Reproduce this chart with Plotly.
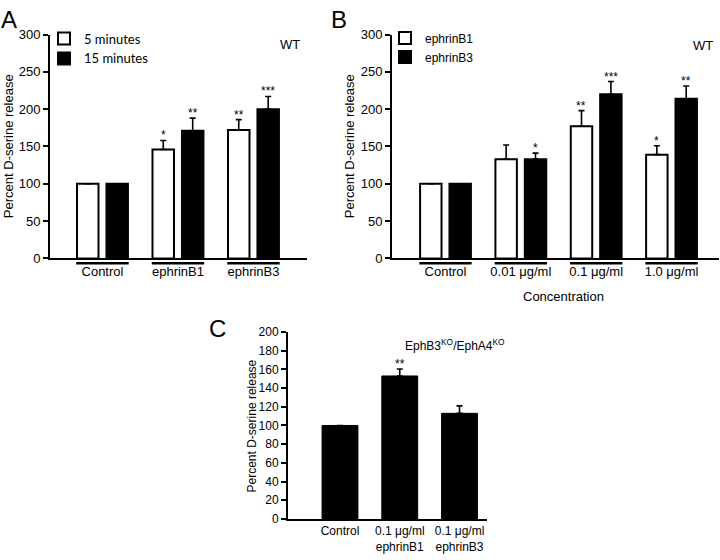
import plotly.graph_objects as go

# ---------------- data ----------------
# Panel A (WT, time course)
cats_a = ["Control", "ephrinB1", "ephrinB3"]
a_5min = [100, 146, 172]
a_5min_err = [0, 12, 14]
a_15min = [100, 171, 200]
a_15min_err = [0, 17, 17]
a_5min_sig = ["", "*", "**"]
a_15min_sig = ["", "**", "***"]

# Panel B (WT, concentration)
cats_b = ["Control", "0.01 μg/ml", "0.1 μg/ml", "1.0 μg/ml"]
b_ephrinb1 = [100, 133, 177, 139]
b_ephrinb1_err = [0, 19, 21, 12]
b_ephrinb3 = [100, 133, 220, 214]
b_ephrinb3_err = [0, 8, 17, 17]
b_b1_sig = ["", "", "**", "*"]
b_b3_sig = ["", "*", "***", "**"]

# Panel C (EphB3KO/EphA4KO)
cats_c = ["Control", "0.1 μg/ml<br>ephrinB1", "0.1 μg/ml<br>ephrinB3"]
c_vals = [100, 153, 113]
c_err = [0, 7.5, 8]
c_sig = ["", "**", ""]

ticks_ab = [0, 50, 100, 150, 200, 250, 300]
ticks_c = [0, 20, 40, 60, 80, 100, 120, 140, 160, 180, 200]

# ---------------- style ----------------
FONT = "Liberation Sans, Arial, Helvetica, sans-serif"
W, H = 720, 560
BARGAP = 0.22
BARGROUPGAP = 0.27
HALF = (1 - BARGAP) / 4          # centre offset of each bar in a pair
BARHALF = (1 - BARGAP) / 2 * (1 - BARGROUPGAP) / 2


def px(x):
    return x / W


def py(y):
    return 1 - y / H


def errs(e):
    return [v if v else None for v in e]


fig = go.Figure()

def pair(x, vals, err, name, color, xa, ya, legend):
    fig.add_trace(go.Bar(
        x=x, y=vals, name=name, xaxis=xa, yaxis=ya, legend=legend,
        marker=dict(color=color, line=dict(color="black", width=2)),
        error_y=dict(type="data", symmetric=False, array=errs(err),
                     arrayminus=[0] * len(err), color="black",
                     thickness=1.6, width=3),
    ))

pair(cats_a, a_5min, a_5min_err, "5 minutes", "white", "x", "y", "legend")
pair(cats_a, a_15min, a_15min_err, "15 minutes", "black", "x", "y", "legend")
pair(cats_b, b_ephrinb1, b_ephrinb1_err, "ephrinB1", "white", "x2", "y2", "legend2")
pair(cats_b, b_ephrinb3, b_ephrinb3_err, "ephrinB3", "black", "x2", "y2", "legend2")

fig.add_trace(go.Bar(
    x=cats_c, y=c_vals, xaxis="x3", yaxis="y3", showlegend=False, width=0.6,
    marker=dict(color="black", line=dict(color="black", width=1)),
    error_y=dict(type="data", symmetric=False, array=errs(c_err),
                 arrayminus=[0] * len(c_err), color="black",
                 thickness=1.6, width=3),
))

annotations = []
shapes = []

# significance stars
def stars(sig, vals, err, offset, xref, yref):
    for i, s in enumerate(sig):
        if s:
            annotations.append(dict(
                x=i + offset, y=vals[i] + err[i], xref=xref, yref=yref,
                text=s, showarrow=False, yanchor="bottom", yshift=-4,
                font=dict(family=FONT, size=12, color="black")))

stars(a_5min_sig, a_5min, a_5min_err, -HALF, "x", "y")
stars(a_15min_sig, a_15min, a_15min_err, HALF, "x", "y")
stars(b_b1_sig, b_ephrinb1, b_ephrinb1_err, -HALF, "x2", "y2")
stars(b_b3_sig, b_ephrinb3, b_ephrinb3_err, HALF, "x2", "y2")
stars(c_sig, c_vals, c_err, 0, "x3", "y3")

# group underlines
for cats, xref, yref in [(cats_a, "x", "y domain"), (cats_b, "x2", "y2 domain")]:
    for i, _ in enumerate(cats):
        shapes.append(dict(type="line", xref=xref, yref=yref,
                           x0=i - HALF - BARHALF - 0.01, x1=i + HALF + BARHALF + 0.01,
                           y0=-0.022, y1=-0.022,
                           line=dict(color="black", width=2.5)))

def text(x, y, t, size=13, angle=0, family=FONT):
    annotations.append(dict(x=px(x), y=py(y), xref="paper", yref="paper",
                            text=t, showarrow=False, textangle=angle,
                            xanchor="center", yanchor="middle",
                            font=dict(family=family, size=size, color="black")))

# panel letters
text(9, 13, "A", 24)
text(339, 13, "B", 24)
text(217, 330, "C", 24)
# y titles
text(8, 143, "Percent D-serine release", 13, -90)
text(349, 143, "Percent D-serine release", 13, -90)
text(252, 430, "Percent D-serine release", 12, -90)
# other labels
text(290, 39, "WT", 13)
text(703, 40, "WT", 13)
text(455, 347, "EphB3<sup>KO</sup>/EphA4<sup>KO</sup>", 12)
text(563, 297, "Concentration", 13)

axis_common = dict(showline=True, linecolor="black", linewidth=2,
                   showgrid=False, zeroline=False, color="black",
                   tickfont=dict(family=FONT, size=13, color="black"))

def xax(domain, rng, anchor, size=13):
    d = dict(axis_common)
    d.update(domain=domain, range=rng, anchor=anchor, type="category",
             ticks="", tickfont=dict(family=FONT, size=size, color="black"))
    return d

def yax(domain, rng, anchor, vals, size=13):
    d = dict(axis_common)
    d.update(domain=domain, range=rng, anchor=anchor, tickmode="array",
             tickvals=vals, ticktext=[str(v) for v in vals],
             ticks="outside", ticklen=5, tickwidth=2, tickcolor="black",
             tickfont=dict(family=FONT, size=size, color="black"))
    return d

fig.update_layout(
    width=W, height=H, autosize=False,
    margin=dict(l=0, r=0, t=0, b=0),
    paper_bgcolor="white", plot_bgcolor="white",
    barmode="group", bargap=BARGAP, bargroupgap=BARGROUPGAP,
    xaxis=xax([px(50), px(307)], [-0.695, 2.709], "y"),
    yaxis=yax([py(258.3), py(28.3)], [0, 300], "x", ticks_ab),
    xaxis2=xax([px(392), px(719)], [-0.71, 3.63], "y2"),
    yaxis2=yax([py(258.3), py(28.3)], [0, 300], "x2", ticks_ab),
    xaxis3=xax([px(288), px(487)], [-0.87, 2.46], "y3", 12),
    yaxis3=yax([py(526), py(334)], [0, 200], "x3", ticks_c, 12),
    legend=dict(x=px(44), y=py(17), xanchor="left", yanchor="top",
                bgcolor="rgba(0,0,0,0)", itemwidth=30,
                font=dict(family="Lato, sans-serif", size=13, color="black")),
    legend2=dict(x=px(385), y=py(17), xanchor="left", yanchor="top",
                 bgcolor="rgba(0,0,0,0)", itemwidth=30,
                 font=dict(family=FONT, size=12, color="black")),
    annotations=annotations, shapes=shapes,
    showlegend=True,
)

fig.write_html("out.html",
               config={"displayModeBar": False},
               post_script="document.body.style.margin='0';document.body.style.overflow='hidden';")
